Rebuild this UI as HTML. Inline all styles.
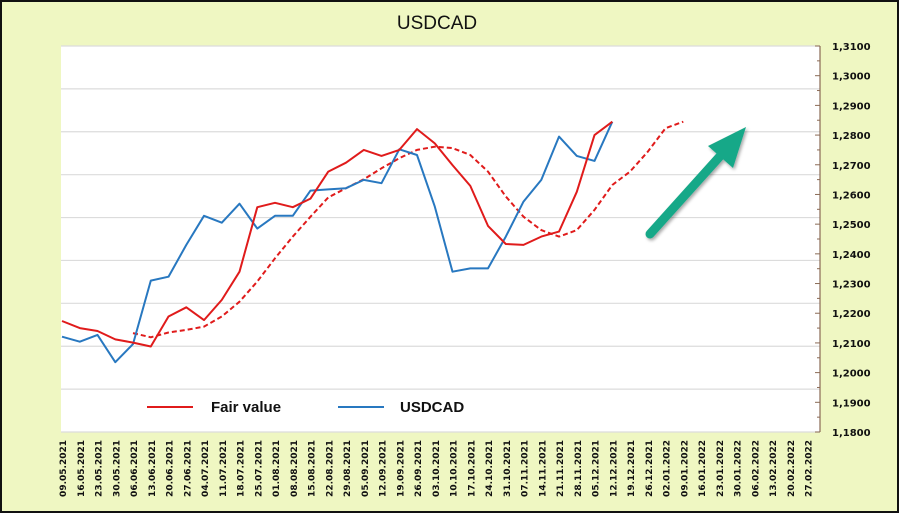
<!DOCTYPE html>
<html><head><meta charset="utf-8"><style>
body{margin:0;width:900px;height:514px;overflow:hidden;background:#fff;font-family:"Liberation Sans",sans-serif}
</style></head><body>
<svg id="chart" width="900" height="514" xmlns="http://www.w3.org/2000/svg">
<defs><filter id="sh" x="-20%" y="-20%" width="140%" height="140%"><feDropShadow dx="1.5" dy="2" stdDeviation="1.5" flood-color="#000" flood-opacity="0.35"/></filter></defs>
<rect x="1" y="1" width="897" height="511" fill="#eff7c2" stroke="#111" stroke-width="2"/>
<rect x="61" y="46" width="759" height="386" fill="#fff"/>
<text x="437" y="29" text-anchor="middle" font-size="19" fill="#111">USDCAD</text>
<g id="grid"></g><g id="yaxis"></g><g id="xaxis"></g><g id="series"></g>
<g>
<line x1="147" y1="407" x2="193" y2="407" stroke="#e01b1b" stroke-width="2"/>
<text x="211" y="412" font-size="15" font-weight="bold" fill="#111">Fair value</text>
<line x1="338" y1="407" x2="384" y2="407" stroke="#2878c0" stroke-width="2"/>
<text x="400" y="412" font-size="15" font-weight="bold" fill="#111">USDCAD</text>
</g>
<g filter="url(#sh)">
<line x1="650" y1="234" x2="722" y2="154" stroke="#18a888" stroke-width="9" stroke-linecap="round"/>
<polygon points="746,127 708,146 733,168" fill="#18a888"/>
</g>
</svg>
<script>
const dates=["09.05.2021","16.05.2021","23.05.2021","30.05.2021","06.06.2021","13.06.2021","20.06.2021","27.06.2021","04.07.2021","11.07.2021","18.07.2021","25.07.2021","01.08.2021","08.08.2021","15.08.2021","22.08.2021","29.08.2021","05.09.2021","12.09.2021","19.09.2021","26.09.2021","03.10.2021","10.10.2021","17.10.2021","24.10.2021","31.10.2021","07.11.2021","14.11.2021","21.11.2021","28.11.2021","05.12.2021","12.12.2021","19.12.2021","26.12.2021","02.01.2022","09.01.2022","16.01.2022","23.01.2022","30.01.2022","06.02.2022","13.02.2022","20.02.2022","27.02.2022"];
const fairValue=[1.2174,1.2150,1.2140,1.2112,1.2101,1.2088,1.2189,1.2220,1.2177,1.2245,1.2340,1.2557,1.2572,1.2557,1.2586,1.2677,1.2707,1.2750,1.2730,1.2750,1.2820,1.2772,1.2699,1.2629,1.2494,1.2433,1.2430,1.2458,1.2475,1.2609,1.2800,1.2845];
const usdcad=[1.2121,1.2104,1.2127,1.2035,1.2096,1.2310,1.2323,1.2430,1.2528,1.2505,1.2569,1.2485,1.2528,1.2528,1.2613,1.2617,1.2621,1.2649,1.2638,1.2752,1.2733,1.2559,1.2340,1.2351,1.2351,1.2458,1.2576,1.2649,1.2795,1.2730,1.2713,1.2845];
const fvForecastStart=4;
const fvForecast=[1.2133,1.2119,1.2135,1.2144,1.2155,1.2189,1.2239,1.2307,1.2385,1.2458,1.2525,1.2590,1.2621,1.2651,1.2688,1.2722,1.2750,1.2761,1.2756,1.2733,1.2677,1.2593,1.2525,1.2480,1.2458,1.2480,1.2548,1.2632,1.2677,1.2744,1.2823,1.2845];
const yTicks=[1.31,1.30,1.29,1.28,1.27,1.26,1.25,1.24,1.23,1.22,1.21,1.20,1.19,1.18];
const NS="http://www.w3.org/2000/svg";
const X=i=>62+i*17.75;
const Y=v=>46+(1.31-v)/0.13*386;
function mk(tag,attrs,parent){const e=document.createElementNS(NS,tag);for(const k in attrs)e.setAttribute(k,attrs[k]);document.getElementById(parent).appendChild(e);return e;}
for(let i=0;i<=9;i++){const l=mk('line',{x1:61,x2:820,y1:46+i*386/9,y2:46+i*386/9,stroke:'#dcdcdc','stroke-width':1.2},'grid');

}
const ax=mk('line',{x1:820,x2:820,y1:46,y2:432,stroke:'#8a6a55','stroke-width':1.2},'yaxis');


yTicks.forEach((v,i)=>{const y=Y(v);
mk('line',{x1:815,x2:820,y1:y,y2:y,stroke:'#8a6a55'},'yaxis');
if(i<yTicks.length-1)mk('line',{x1:817,x2:820,y1:y+14.85,y2:y+14.85,stroke:'#8a6a55'},'yaxis');
const t=mk('text',{x:832,y:y+4,'font-size':10,'font-weight':'bold',fill:'#111','font-family':'"DejaVu Sans",sans-serif'},'yaxis');


t.textContent=v.toFixed(4).replace('.',',');});
dates.forEach((d,i)=>{const x=X(i)+4;
const t=mk('text',{x:0,y:0,transform:`translate(${x},440) rotate(-90)`,'text-anchor':'end','font-size':9,'font-weight':'bold',fill:'#111','font-family':'"DejaVu Sans",sans-serif'},'xaxis');


t.textContent=d;});
function line(arr,start,color,dash,name){const p=arr.map((v,i)=>X(i+start).toFixed(1)+','+Y(v).toFixed(1)).join(' ');
const e=mk('polyline',{points:p,fill:'none',stroke:color,'stroke-width':2,'stroke-linejoin':'round','stroke-dasharray':dash},'series');

}
line(fvForecast,fvForecastStart,'#e01b1b','5,3','fair-value-forecast-line');
line(usdcad,0,'#2878c0','none','usdcad-line');
line(fairValue,0,'#e01b1b','none','fair-value-line');
</script>
</body></html>
